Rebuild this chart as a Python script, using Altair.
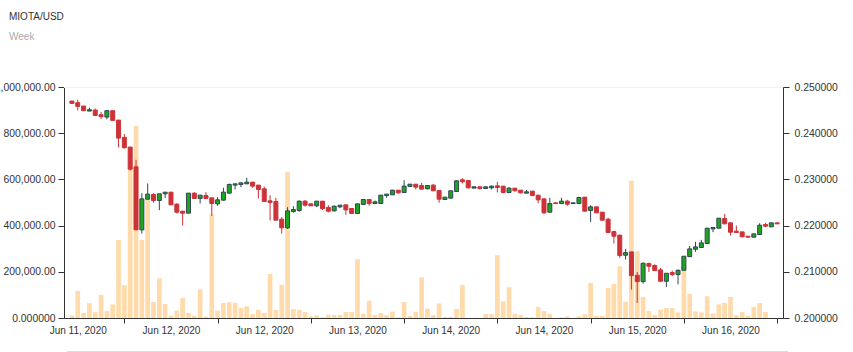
import altair as alt
import pandas as pd
import numpy as np

# ---------------- data (hourly candles, MIOTA/USD) ----------------
times = pd.date_range("2020-06-11 07:00", periods=122, freq="h")

open_ = [
    0.24696, 0.24660, 0.24588, 0.24479, 0.24501, 0.24400, 0.24349, 0.24487, 0.24284, 0.23909,
    0.23699, 0.23273, 0.21908, 0.22572, 0.22673, 0.22543, 0.22688, 0.22724, 0.22464, 0.22312,
    0.22269, 0.22702, 0.22587, 0.22652, 0.22601, 0.22471, 0.22551, 0.22702, 0.22876, 0.22890,
    0.22904, 0.22941, 0.22876, 0.22796, 0.22536, 0.22522, 0.22139, 0.21951, 0.22305, 0.22327,
    0.22529, 0.22471, 0.22428, 0.22529, 0.22392, 0.22319, 0.22406, 0.22449, 0.22370, 0.22262,
    0.22457, 0.22565, 0.22478, 0.22478, 0.22652, 0.22666, 0.22767, 0.22717, 0.22847, 0.22897,
    0.22868, 0.22796, 0.22876, 0.22760, 0.22565, 0.22594, 0.22738, 0.22991, 0.22977, 0.22811,
    0.22840, 0.22803, 0.22818, 0.22861, 0.22854, 0.22717, 0.22811, 0.22767, 0.22702, 0.22746,
    0.22659, 0.22579, 0.22290, 0.22493, 0.22478, 0.22529, 0.22478, 0.22478, 0.22616, 0.22327,
    0.22406, 0.22290, 0.22139, 0.21871, 0.21792, 0.21359, 0.21431, 0.20925, 0.20788, 0.21178,
    0.21135, 0.21041, 0.20795, 0.20983, 0.20940, 0.21033, 0.21330, 0.21489, 0.21525, 0.21611,
    0.21929, 0.21944, 0.22153, 0.22060, 0.21879, 0.21864, 0.21770, 0.21749, 0.21807, 0.22023,
    0.21973, 0.22060,
]
close = [
    0.24645, 0.24580, 0.24487, 0.24508, 0.24385, 0.24357, 0.24487, 0.24277, 0.23894, 0.23685,
    0.23222, 0.21908, 0.22579, 0.22681, 0.22543, 0.22688, 0.22724, 0.22449, 0.22290, 0.22269,
    0.22702, 0.22587, 0.22659, 0.22587, 0.22478, 0.22558, 0.22724, 0.22890, 0.22904, 0.22926,
    0.22941, 0.22854, 0.22782, 0.22522, 0.22500, 0.22117, 0.21951, 0.22319, 0.22348, 0.22529,
    0.22442, 0.22428, 0.22529, 0.22370, 0.22312, 0.22420, 0.22442, 0.22341, 0.22262, 0.22471,
    0.22565, 0.22478, 0.22514, 0.22659, 0.22681, 0.22767, 0.22709, 0.22854, 0.22897, 0.22832,
    0.22789, 0.22868, 0.22753, 0.22572, 0.22616, 0.22753, 0.22970, 0.22948, 0.22818, 0.22840,
    0.22803, 0.22840, 0.22854, 0.22825, 0.22717, 0.22811, 0.22753, 0.22709, 0.22731, 0.22652,
    0.22558, 0.22276, 0.22478, 0.22478, 0.22529, 0.22464, 0.22493, 0.22608, 0.22312, 0.22406,
    0.22276, 0.22117, 0.21850, 0.21770, 0.21351, 0.21416, 0.20918, 0.20788, 0.21185, 0.21120,
    0.21026, 0.20795, 0.20968, 0.20940, 0.21033, 0.21337, 0.21496, 0.21539, 0.21626, 0.21944,
    0.21958, 0.22160, 0.22038, 0.21857, 0.21850, 0.21756, 0.21749, 0.21821, 0.22009, 0.21987,
    0.22060, 0.22038,
]
high = [
    0.24696, 0.24725, 0.24588, 0.24552, 0.24537, 0.24458, 0.24494, 0.24487, 0.24284, 0.23981,
    0.23699, 0.23425, 0.22702, 0.22912, 0.22702, 0.22688, 0.22724, 0.22724, 0.22485, 0.22312,
    0.22702, 0.22724, 0.22659, 0.22724, 0.22601, 0.22616, 0.22818, 0.22912, 0.22904, 0.22926,
    0.23035, 0.22941, 0.22876, 0.22847, 0.22659, 0.22601, 0.22182, 0.22399, 0.22420, 0.22543,
    0.22551, 0.22471, 0.22529, 0.22529, 0.22442, 0.22435, 0.22442, 0.22449, 0.22370, 0.22471,
    0.22565, 0.22565, 0.22543, 0.22659, 0.22681, 0.22774, 0.22767, 0.22984, 0.22897, 0.22897,
    0.22926, 0.22868, 0.22904, 0.22760, 0.22616, 0.22753, 0.22984, 0.23027, 0.22977, 0.22840,
    0.22840, 0.22840, 0.22868, 0.22948, 0.22854, 0.22832, 0.22811, 0.22767, 0.22774, 0.22746,
    0.22659, 0.22579, 0.22601, 0.22493, 0.22601, 0.22558, 0.22493, 0.22623, 0.22616, 0.22442,
    0.22406, 0.22290, 0.22168, 0.21886, 0.21807, 0.21496, 0.21431, 0.20997, 0.21200, 0.21200,
    0.21163, 0.21084, 0.20968, 0.21026, 0.21048, 0.21337, 0.21561, 0.21648, 0.21691, 0.21944,
    0.21958, 0.22160, 0.22254, 0.22060, 0.22001, 0.21864, 0.21770, 0.21821, 0.22052, 0.22060,
    0.22060, 0.22060,
]
low = [
    0.24645, 0.24494, 0.24479, 0.24479, 0.24378, 0.24306, 0.24299, 0.24270, 0.23692, 0.23670,
    0.23193, 0.21908, 0.21828, 0.22565, 0.22493, 0.22334, 0.22601, 0.22449, 0.22262, 0.22001,
    0.22269, 0.22587, 0.22478, 0.22587, 0.22211, 0.22428, 0.22543, 0.22695, 0.22782, 0.22832,
    0.22904, 0.22818, 0.22587, 0.22522, 0.22110, 0.22117, 0.21828, 0.21929, 0.22283, 0.22298,
    0.22413, 0.22428, 0.22399, 0.22334, 0.22283, 0.22305, 0.22377, 0.22233, 0.22254, 0.22254,
    0.22457, 0.22428, 0.22478, 0.22478, 0.22601, 0.22666, 0.22688, 0.22717, 0.22847, 0.22782,
    0.22789, 0.22782, 0.22746, 0.22493, 0.22565, 0.22594, 0.22738, 0.22912, 0.22803, 0.22811,
    0.22782, 0.22803, 0.22782, 0.22717, 0.22702, 0.22702, 0.22738, 0.22695, 0.22702, 0.22637,
    0.22485, 0.22254, 0.22283, 0.22478, 0.22478, 0.22428, 0.22478, 0.22478, 0.22305, 0.22081,
    0.22276, 0.22110, 0.21850, 0.21611, 0.21301, 0.21265, 0.20614, 0.20325, 0.20745, 0.20997,
    0.21026, 0.20795, 0.20672, 0.20903, 0.20730, 0.21026, 0.21315, 0.21431, 0.21518, 0.21611,
    0.21857, 0.21944, 0.22038, 0.21785, 0.21850, 0.21756, 0.21749, 0.21749, 0.21807, 0.21965,
    0.21973, 0.22038,
]
volume_k = [
    11, 117, 22, 64, 25, 100, 30, 59, 338, 142,
    650, 831, 338, 530, 69, 172, 61, 11, 32, 87,
    22, 10, 124, 6, 449, 32, 65, 68, 65, 43,
    50, 17, 35, 22, 191, 35, 144, 633, 39, 35,
    26, 7, 11, 3, 14, 13, 13, 26, 26, 254,
    19, 75, 13, 22, 13, 27, 3, 69, 9, 27,
    176, 40, 13, 63, 4, 4, 39, 143, 0, 0,
    0, 17, 17, 272, 72, 133, 19, 13, 4, 3,
    48, 30, 17, 0, 3, 7, 0, 7, 16, 152,
    9, 9, 130, 147, 224, 71, 594, 289, 91, 30,
    13, 36, 43, 43, 24, 228, 104, 29, 24, 94,
    20, 59, 65, 91, 13, 26, 10, 48, 65, 26,
    0, 0,
]

# axis ticks / labels (category index positions)
x_tick_idx = [9, 25, 41, 57, 73, 89, 105, 121]
x_label_idx = [1, 17, 33, 49, 65, 81, 97, 113]
x_label_text = [times[i].strftime("%b %d, %Y") for i in x_label_idx]
vol_ticks = [0, 200000, 400000, 600000, 800000, 1000000]
price_ticks = [0.20, 0.21, 0.22, 0.23, 0.24, 0.25]

df = pd.DataFrame({
    "idx": np.arange(len(open_)),
    "time": times[: len(open_)],
    "open": open_, "close": close, "high": high, "low": low,
    "volume": np.array(volume_k) * 1000,
})
df["dir"] = np.where(df["close"] >= df["open"], "up", "down")

UP_FILL = "#1ea51e"
UP_LINE = "#314656"
DOWN = "#cc3338"
VOL = "#ffdaaa"
FONT = "Liberation Sans"
AX = "#333333"

label_expr = " : ".join(
    f"datum.value == {i} ? '{t}'" for i, t in zip(x_label_idx, x_label_text)
) + " : ''"

xscale = alt.Scale(domain=[-0.5, 121.15], nice=False, zero=False)

tick_axis = alt.Axis(orient="bottom", values=x_tick_idx, labels=False, ticks=True, tickSize=5,
                     tickColor=AX, domain=True, domainColor=AX, grid=False, title=None)
label_axis = alt.Axis(orient="bottom", values=x_label_idx, labelExpr=label_expr, ticks=False,
                      domain=False, grid=False, title=None, labelFlush=False, labelOverlap=False,
                      labelPadding=7, labelFontSize=10, labelColor=AX, labelFont=FONT)

vol_axis = alt.Axis(orient="left", values=vol_ticks,
                    labelExpr="datum.value == 0 ? '0.000000' : format(datum.value, ',.2f')",
                    tickSize=6, tickColor=AX, domainColor=AX, labelColor=AX, labelFontSize=10.4,
                    labelFont=FONT, labelPadding=3, grid=False, title=None)
price_axis = alt.Axis(orient="right", values=price_ticks, format=".6f",
                      tickSize=6, tickColor=AX, domainColor=AX, labelColor=AX, labelFontSize=10.4,
                      labelFont=FONT, labelPadding=5, grid=False, title=None)

vol = alt.Chart(df).mark_bar(size=4.7, color=VOL).encode(
    x=alt.X("idx:Q", scale=xscale, axis=tick_axis),
    y=alt.Y("volume:Q", scale=alt.Scale(domain=[0, 1000000], nice=False), axis=vol_axis),
)

pscale = alt.Scale(domain=[0.20, 0.25], nice=False, zero=False)
dir_dom = ["up", "down"]

wick = alt.Chart(df).mark_rule(strokeWidth=1).encode(
    x=alt.X("idx:Q", scale=xscale, axis=label_axis),
    y=alt.Y("low:Q", scale=pscale, axis=price_axis),
    y2="high:Q",
    color=alt.Color("dir:N", scale=alt.Scale(domain=dir_dom, range=[UP_LINE, DOWN]), legend=None),
)
body = alt.Chart(df).mark_bar(size=4, strokeWidth=1).encode(
    x=alt.X("idx:Q", scale=xscale, axis=label_axis),
    y=alt.Y("open:Q", scale=pscale, axis=price_axis),
    y2="close:Q",
    fill=alt.Fill("dir:N", scale=alt.Scale(domain=dir_dom, range=[UP_FILL, DOWN]), legend=None),
    stroke=alt.Stroke("dir:N", scale=alt.Scale(domain=dir_dom, range=[UP_LINE, DOWN]), legend=None),
)

candles = alt.layer(wick, body)

top_line = alt.Chart(pd.DataFrame({"a": [0]})).mark_rule(color="#fcefe6", strokeWidth=1).encode(
    x=alt.value(0), x2=alt.value(719), y=alt.value(0.5)
)
bottom_line = alt.Chart(pd.DataFrame({"a": [0]})).mark_rule(color="#dcdcdc", strokeWidth=1).encode(
    x=alt.value(3), x2=alt.value(724), y=alt.value(264.5)
)

chart = alt.layer(top_line, vol, candles, bottom_line).resolve_scale(
    y="independent"
).resolve_axis(
    x="independent"
).properties(
    width=719,
    height=231,
    padding={"left": 64, "top": 87, "right": 70, "bottom": 34},
    autosize=alt.AutoSizeParams(type="none"),
    title=alt.Title("MIOTA/USD", subtitle="Week", anchor="start", frame="group", dx=-55,
                    offset=40, fontSize=10, fontWeight="normal", color="#333333",
                    font=FONT, subtitleFont=FONT, subtitleFontSize=10,
                    subtitleColor="#aaaaaa", subtitlePadding=10),
).configure_view(stroke=None).configure(background="white")

chart.save("out.html", embed_options={"renderer": "svg", "actions": False})
